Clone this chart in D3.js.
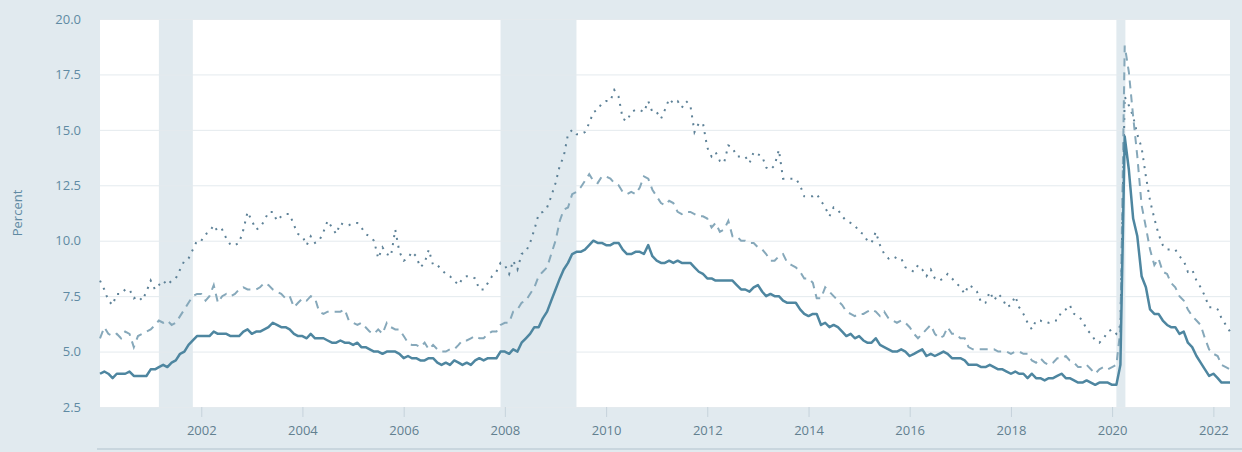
<!DOCTYPE html>
<html>
<head>
<meta charset="utf-8">
<script src="https://cdn.jsdelivr.net/npm/d3@7"></script>
<style>
  html, body { margin: 0; padding: 0; background: #e1eaef; }
  svg { display: block; font-family: "Open Sans", sans-serif; }
</style>
</head>
<body>
<svg id="chart" width="1242" height="452"></svg>
<script>
// monthly values, Jan 2000 .. May 2022
const unrate = [
  4.0,4.1,4.0,3.8,4.0,4.0,4.0,4.1,3.9,3.9,3.9,3.9,
  4.2,4.2,4.3,4.4,4.3,4.5,4.6,4.9,5.0,5.3,5.5,5.7,
  5.7,5.7,5.7,5.9,5.8,5.8,5.8,5.7,5.7,5.7,5.9,6.0,
  5.8,5.9,5.9,6.0,6.1,6.3,6.2,6.1,6.1,6.0,5.8,5.7,
  5.7,5.6,5.8,5.6,5.6,5.6,5.5,5.4,5.4,5.5,5.4,5.4,
  5.3,5.4,5.2,5.2,5.1,5.0,5.0,4.9,5.0,5.0,5.0,4.9,
  4.7,4.8,4.7,4.7,4.6,4.6,4.7,4.7,4.5,4.4,4.5,4.4,
  4.6,4.5,4.4,4.5,4.4,4.6,4.7,4.6,4.7,4.7,4.7,5.0,
  5.0,4.9,5.1,5.0,5.4,5.6,5.8,6.1,6.1,6.5,6.8,7.3,
  7.8,8.3,8.7,9.0,9.4,9.5,9.5,9.6,9.8,10.0,9.9,9.9,
  9.8,9.8,9.9,9.9,9.6,9.4,9.4,9.5,9.5,9.4,9.8,9.3,
  9.1,9.0,9.0,9.1,9.0,9.1,9.0,9.0,9.0,8.8,8.6,8.5,
  8.3,8.3,8.2,8.2,8.2,8.2,8.2,8.0,7.8,7.8,7.7,7.9,
  8.0,7.7,7.5,7.6,7.5,7.5,7.3,7.2,7.2,7.2,6.9,6.7,
  6.6,6.7,6.7,6.2,6.3,6.1,6.2,6.1,5.9,5.7,5.8,5.6,
  5.7,5.5,5.4,5.4,5.6,5.3,5.2,5.1,5.0,5.0,5.1,5.0,
  4.8,4.9,5.0,5.1,4.8,4.9,4.8,4.9,5.0,4.9,4.7,4.7,
  4.7,4.6,4.4,4.4,4.4,4.3,4.3,4.4,4.3,4.2,4.2,4.1,
  4.0,4.1,4.0,4.0,3.8,4.0,3.8,3.8,3.7,3.8,3.8,3.9,
  4.0,3.8,3.8,3.7,3.6,3.6,3.7,3.6,3.5,3.6,3.6,3.6,
  3.5,3.5,4.4,14.7,13.2,11.0,10.2,8.4,7.9,6.9,6.7,6.7,
  6.4,6.2,6.1,6.1,5.8,5.9,5.4,5.2,4.8,4.5,4.2,3.9,
  4.0,3.8,3.6,3.6,3.6
];

const hispanic = [
  5.6,6.1,5.8,5.7,5.8,5.6,5.9,5.8,5.2,5.7,5.8,5.9,
  6.0,6.2,6.4,6.3,6.4,6.2,6.3,6.6,6.9,7.2,7.5,7.6,
  7.6,7.3,7.5,8.0,7.2,7.5,7.6,7.5,7.6,7.8,7.9,7.8,
  7.8,7.8,7.9,8.1,8.0,7.8,7.7,7.6,7.4,7.5,7.0,7.2,
  7.4,7.3,7.5,7.4,6.8,6.7,6.8,6.8,6.8,6.8,6.9,6.4,
  6.3,6.2,6.3,6.1,5.9,5.8,6.0,5.8,6.3,6.1,6.0,6.0,
  5.7,5.4,5.3,5.3,5.2,5.4,5.1,5.3,5.1,5.0,5.0,5.1,
  5.1,5.3,5.5,5.5,5.6,5.7,5.6,5.6,5.8,5.9,5.9,6.2,
  6.3,6.3,6.8,6.9,7.2,7.3,7.6,7.9,8.4,8.6,8.8,9.4,
  10.0,10.9,11.4,11.5,12.1,12.2,12.4,12.7,13.0,12.7,12.6,12.9,
  12.9,12.8,12.6,12.5,12.2,12.1,12.2,12.1,12.4,12.9,12.8,12.3,
  12.0,11.7,11.6,11.8,11.7,11.3,11.2,11.3,11.3,11.2,11.1,11.1,
  11.0,10.6,10.8,10.4,10.5,10.9,10.2,10.2,10.0,10.0,9.9,9.9,
  9.7,9.6,9.4,9.1,9.1,9.3,9.4,9.0,8.9,8.8,8.6,8.3,
  8.3,8.1,7.4,7.4,7.9,7.7,7.5,7.3,7.1,6.8,6.7,6.6,
  6.7,6.7,6.8,6.9,6.8,6.6,6.8,6.5,6.4,6.3,6.4,6.3,
  6.1,5.8,5.6,5.8,6.0,6.2,5.8,5.6,5.7,6.1,5.8,5.8,
  5.6,5.6,5.2,5.1,5.1,5.1,5.1,5.1,5.1,5.0,5.0,5.0,
  4.9,5.0,5.0,4.9,4.9,4.6,4.5,4.7,4.5,4.4,4.5,4.7,
  4.7,4.8,4.6,4.5,4.3,4.3,4.4,4.2,4.0,4.2,4.3,4.2,
  4.3,4.4,6.0,18.8,17.6,15.6,13.8,11.6,10.6,9.6,8.9,9.2,
  8.6,8.5,8.1,7.9,7.5,7.3,6.9,6.6,6.4,6.2,5.6,5.1,
  4.9,4.8,4.4,4.3,4.2
];

const black = [
  8.2,7.8,7.3,7.1,7.6,7.6,7.8,7.8,7.4,7.5,7.3,7.7,
  8.2,7.8,8.0,8.2,8.0,8.2,8.3,8.7,9.1,9.2,9.6,10.0,
  10.0,10.3,10.4,10.7,10.4,10.5,10.1,9.8,9.8,9.9,10.5,11.3,
  10.9,10.5,10.6,10.9,11.3,11.3,10.9,11.1,11.2,11.2,10.7,10.3,
  10.2,9.8,10.2,9.9,10.0,10.4,10.9,10.6,10.3,10.8,10.7,10.7,
  10.8,10.8,10.6,10.3,10.2,10.0,9.2,9.7,9.4,9.3,10.5,9.5,
  9.1,9.2,9.5,9.3,8.8,9.0,9.6,8.9,8.9,8.7,8.5,8.4,
  8.2,8.0,8.3,8.4,8.4,8.3,7.8,7.8,8.1,8.4,8.6,9.0,
  8.9,8.5,9.1,8.7,9.4,9.5,9.9,10.5,11.2,11.3,11.5,12.0,
  12.6,13.4,13.8,14.8,15.0,14.8,14.8,14.9,15.3,15.8,15.9,16.2,
  16.3,16.3,16.8,16.5,15.5,15.4,15.8,15.9,15.9,15.8,16.3,15.8,
  15.8,15.5,15.9,16.4,16.2,16.3,16.0,16.3,16.1,14.9,15.3,15.3,
  14.2,13.8,14.0,13.6,13.5,14.3,14.2,13.8,13.8,13.8,13.5,14.0,
  13.9,13.8,13.3,13.2,13.4,14.1,12.8,12.8,12.8,12.8,12.5,12.0,
  12.0,12.0,12.1,11.8,11.5,11.1,11.5,11.4,11.1,10.9,10.8,10.7,
  10.4,10.3,10.0,9.9,10.4,9.8,9.4,9.2,9.3,9.2,9.2,8.8,
  8.7,8.6,8.9,8.7,8.4,8.7,8.3,8.2,8.3,8.5,8.3,8.1,
  7.9,7.6,8.0,7.9,7.7,7.2,7.2,7.7,7.3,7.6,7.4,7.0,
  7.1,7.5,7.0,6.7,6.3,6.0,6.4,6.4,6.3,6.3,6.4,6.4,
  6.8,6.9,7.1,6.7,6.6,6.4,6.0,5.8,5.5,5.4,5.6,5.9,
  6.0,5.8,6.2,16.5,16.1,15.6,14.8,14.2,12.9,11.8,11.0,10.3,
  9.8,9.6,9.6,9.6,9.3,9.1,8.6,8.7,8.2,7.9,7.5,7.0,
  7.0,6.9,6.5,6.2,5.9
];

const recessions = [
  ["2001-03-01", "2001-11-01"],
  ["2007-12-01", "2009-06-01"],
  ["2020-02-01", "2020-04-01"]
];

const yTicks = [2.5, 5.0, 7.5, 10.0, 12.5, 15.0, 17.5, 20.0];
const xTickYears = [2002, 2004, 2006, 2008, 2010, 2012, 2014, 2016, 2018, 2020, 2022];

const months = d3.timeMonth.range(new Date(2000, 0, 1), new Date(2022, 5, 1));

const margin = { top: 19, left: 100, bottom: 407, right: 1230 };
const svg = d3.select("#chart");

const x = d3.scaleTime()
  .domain([months[0], months[months.length - 1]])
  .range([margin.left, margin.right]);

const y = d3.scaleLinear()
  .domain([2.5, 20])
  .range([margin.bottom, margin.top]);

const parse = d3.timeParse("%Y-%m-%d");

// plot background
svg.append("rect")
  .attr("x", margin.left).attr("y", margin.top)
  .attr("width", margin.right - margin.left)
  .attr("height", margin.bottom - margin.top)
  .attr("fill", "#ffffff");

// recession bars
svg.append("g")
  .selectAll("rect")
  .data(recessions)
  .join("rect")
  .attr("x", d => x(parse(d[0])))
  .attr("width", d => Math.max(x(parse(d[1])) - x(parse(d[0])), 9))
  .attr("y", margin.top)
  .attr("height", margin.bottom - margin.top)
  .attr("fill", "#e1eaef");

// grid
svg.append("g")
  .attr("transform", `translate(${margin.left},0)`)
  .call(d3.axisLeft(y).tickValues(yTicks).tickSize(-(margin.right - margin.left)).tickFormat(""))
  .call(g => g.select(".domain").remove())
  .call(g => g.selectAll("line").attr("stroke", "#e4eaee").attr("stroke-width", 1));

// y labels
svg.append("g")
  .attr("transform", `translate(${margin.left},0)`)
  .call(d3.axisLeft(y).tickValues(yTicks).tickSize(0).tickPadding(19).tickFormat(d3.format(".1f")))
  .call(g => g.select(".domain").remove())
  .call(g => g.selectAll("text")
    .attr("fill", "#5f8aa3")
    .attr("font-size", "13px")
    .attr("font-family", "Open Sans, sans-serif"));

// x axis
svg.append("g")
  .attr("transform", `translate(0,${margin.bottom})`)
  .call(d3.axisBottom(x)
    .tickValues(xTickYears.map(yr => new Date(yr, 0, 1)))
    .tickSize(10).tickPadding(9)
    .tickFormat(d3.timeFormat("%Y")))
  .call(g => g.select(".domain").remove())
  .call(g => g.selectAll("line").attr("stroke", "#c6d3db"))
  .call(g => g.selectAll("text")
    .attr("fill", "#62808f")
    .attr("font-size", "13px")
    .attr("font-family", "Open Sans, sans-serif"));

// axis title
svg.append("text")
  .attr("transform", "translate(22,213) rotate(-90)")
  .attr("text-anchor", "middle")
  .attr("fill", "#5f8aa3")
  .attr("font-size", "13px")
  .text("Percent");

// bottom navigator edge
svg.append("line")
  .attr("x1", 97).attr("x2", 1242)
  .attr("y1", 449).attr("y2", 449)
  .attr("stroke", "#c9d6de").attr("stroke-width", 2);

const line = vals => d3.line()
  .x((d, i) => x(months[i]))
  .y(d => y(d))(vals);

const plot = svg.append("g");

plot.append("path")
  .attr("d", line(black))
  .attr("fill", "none")
  .attr("stroke", "#5d8197")
  .attr("stroke-width", 2)
  .attr("stroke-dasharray", "2,6");

plot.append("path")
  .attr("d", line(hispanic))
  .attr("fill", "none")
  .attr("stroke", "#86a8ba")
  .attr("stroke-width", 2)
  .attr("stroke-dasharray", "8,6");

plot.append("path")
  .attr("d", line(unrate))
  .attr("fill", "none")
  .attr("stroke", "#4e86a0")
  .attr("stroke-width", 2.5)
  .attr("stroke-linejoin", "round");
</script>
</body>
</html>
